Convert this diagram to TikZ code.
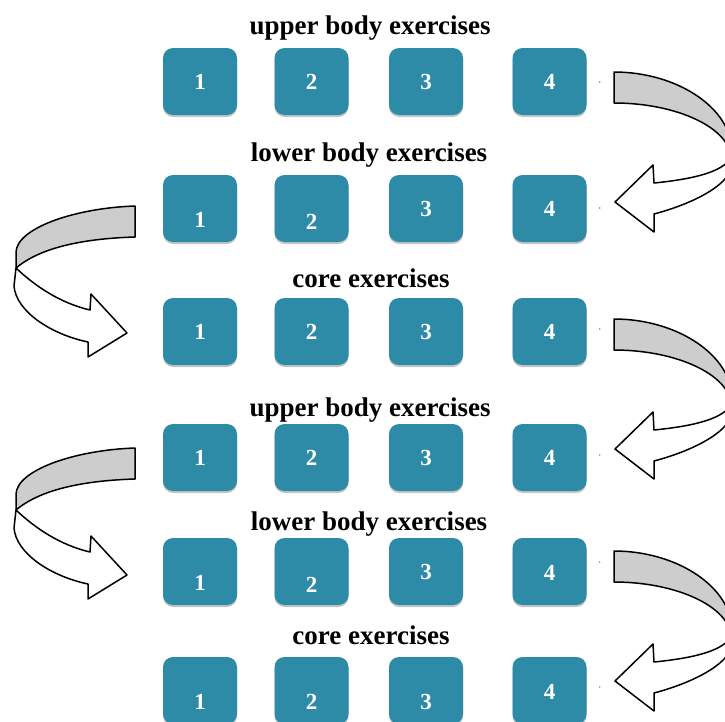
\documentclass[tikz,border=0pt]{standalone}
\usepackage{fontspec}
\setmainfont{Liberation Serif}
\usepackage{tikz}
\usetikzlibrary{shadows}
\definecolor{exteal}{RGB}{46,139,167}
\definecolor{ribbongray}{RGB}{205,205,205}

\begin{document}
\begin{tikzpicture}[
    x=1pt, y=-1pt,
    exbox/.style={fill=exteal, rounded corners=10pt, minimum width=74pt, minimum height=67pt, inner sep=0pt,
        drop shadow={shadow xshift=0pt, shadow yshift=-2pt, opacity=0.45, fill=gray}},
    num/.style={text=white, inner sep=0pt, font=\bfseries\fontsize{23}{23}\selectfont},
    heading/.style={anchor=base, inner sep=0pt, font=\bfseries\fontsize{27}{27}\selectfont},
    back/.style={draw, line width=1.5pt, fill=ribbongray, line join=round},
    front/.style={draw, line width=1.5pt, fill=white, line join=round}
]
\useasboundingbox (0,0) rectangle (725,721);
\clip (0,0) rectangle (725,721);

% headings
\node[heading] (h1) at (370,34) {upper body exercises};
\node[heading] (h2) at (369,161) {lower body exercises};
\node[heading] (h3) at (371,287) {core exercises};
\node[heading] (h4) at (370,416) {upper body exercises};
\node[heading] (h5) at (369,530) {lower body exercises};
\node[heading] (h6) at (371,644) {core exercises};

% exercise boxes
\foreach \r/\cy in {1/81.5, 2/208.5, 3/331.5, 4/457.5, 5/571.5, 6/690.5}
    \foreach \c/\cx in {1/200, 2/311.5, 3/426, 4/549.5}
        \node[exbox] (b\r\c) at (\cx,\cy) {};

% numbers, some sit lower in their box
\foreach \r/\da/\db/\dc/\dd in {1/0/0/0/0, 2/11.5/13/0/0.5, 3/0/0/0/0, 4/0/0/0/0, 5/11.5/13.5/0.5/1.5, 6/11/11/11/1} {
    \node[num] at ([yshift=-\da pt]b\r1.center) {1};
    \node[num] at ([yshift=-\db pt]b\r2.center) {2};
    \node[num] at ([yshift=-\dc pt]b\r3.center) {3};
    \node[num] at ([yshift=-\dd pt]b\r4.center) {4};
}

% small marks right of the last box
\foreach \r/\dy in {1/0.5, 2/-0.5, 3/-2.5, 4/-2.5, 5/-9.5, 6/-3.5}
    \fill[gray] ([xshift=13pt, yshift=-\dy pt]b\r4.east) circle (0.8);

% turning arrows on the right
\foreach \sy in {72, 319, 551} {
    \begin{scope}[shift={(614,\sy)}]
        \draw[front] (117,86) .. controls (108,100) and (80,107) .. (40,111) -- (39,93) -- (1,130)
            -- (40,160) -- (40,142) .. controls (85,130) and (118,110) .. (118,92) -- cycle;
        \draw[back] (0,0) .. controls (63,0) and (118,36) .. (118,80) -- (117,86)
            .. controls (116,56) and (63,31) .. (0,31) -- cycle;
    \end{scope}
}

% turning arrows on the left
\foreach \sy in {206, 448} {
    \begin{scope}[shift={(135,\sy)}, xscale=-1]
        \draw[front] (119,62) .. controls (100,80) and (75,97) .. (45,104) -- (44,88) -- (8,127)
            -- (47,151) -- (47,136) .. controls (85,128) and (119,105) .. (121,80) -- cycle;
        \draw[back] (0,0) .. controls (60,2) and (118,22) .. (119,46) -- (119,62)
            .. controls (100,46) and (65,33) .. (0,31) -- cycle;
    \end{scope}
}
\end{tikzpicture}
\end{document}
